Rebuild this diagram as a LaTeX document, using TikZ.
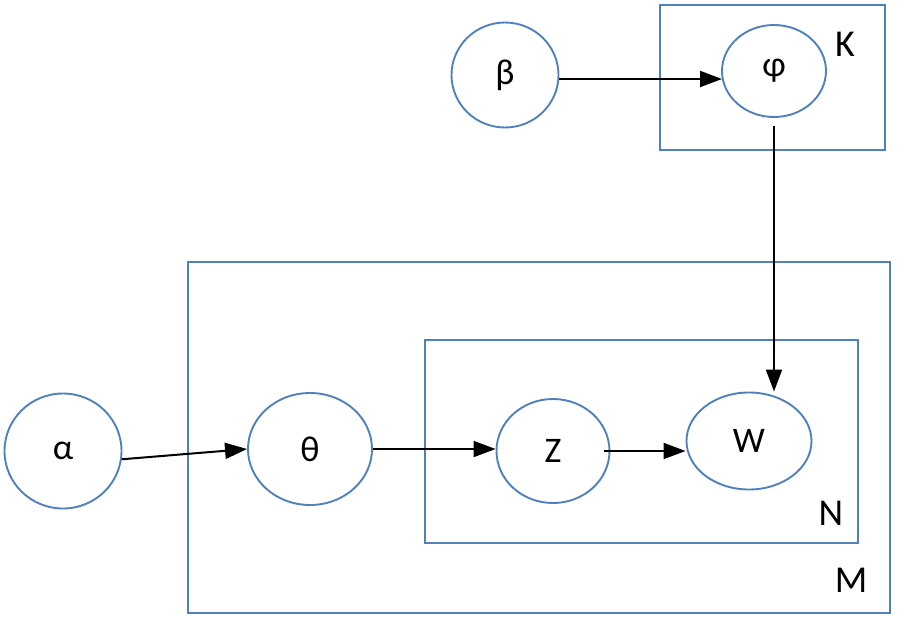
\documentclass[tikz,border=0pt]{standalone}
\usepackage{fontspec}
\setmainfont{Carlito}
\usetikzlibrary{shapes.geometric,arrows.meta}
\definecolor{plateblue}{HTML}{4F81BD}
\tikzset{
  var/.style={ellipse, draw=plateblue, line width=1.9pt, inner sep=0pt, font=\fontsize{36}{38}\selectfont},
  plate/.style={draw=plateblue, line width=1.9pt},
  platelabel/.style={font=\fontsize{38}{40}\selectfont, inner sep=0pt},
  arr/.style={draw=black, line width=2pt, -{Triangle[length=22pt,width=16pt]}}
}
\begin{document}
\begin{tikzpicture}[x=1pt,y=-1pt]
\useasboundingbox (0,0) rectangle (898,622);
% plates
\node[plate, minimum width=225pt, minimum height=145pt, inner sep=0pt] (K) at (772.5,77.5) {};
\node[plate, minimum width=702pt, minimum height=351pt, inner sep=0pt] (M) at (539,437.5) {};
\node[plate, minimum width=433pt, minimum height=203pt, inner sep=0pt] (N) at (641.5,441.5) {};
\node[platelabel] (Kl) at (845,44) {K};
\node[platelabel] (Nl) at (831,513) {N};
\node[platelabel] (Ml) at (851,580) {M};
% variables
\node[var, minimum width=107pt, minimum height=105pt] (b) at (505,75) {β};
\node[var, minimum width=104pt, minimum height=92pt] (f) at (774,71) {φ};
\node[var, minimum width=117pt, minimum height=115pt] (a) at (63,451) {α};
\node[var, minimum width=124pt, minimum height=112pt] (t) at (310,449) {θ};
\node[var, minimum width=113pt, minimum height=104pt] (z) at (553,451) {Z};
\node[var, minimum width=125pt, minimum height=97pt] (w) at (749,441) {W};
% connectors
\draw[arr] (b.east) ++(0,4) -- (722,79);
\draw[arr] ([yshift=-8pt]f.south) -- (f.south |- w.north);
\draw[arr] (a.-8) -- (t.west);
\draw[arr] (t.east) -- (t.east -| z.west);
\draw[arr] ([xshift=-6pt]z.east) -- (w.west |- z.east);
\end{tikzpicture}
\end{document}
